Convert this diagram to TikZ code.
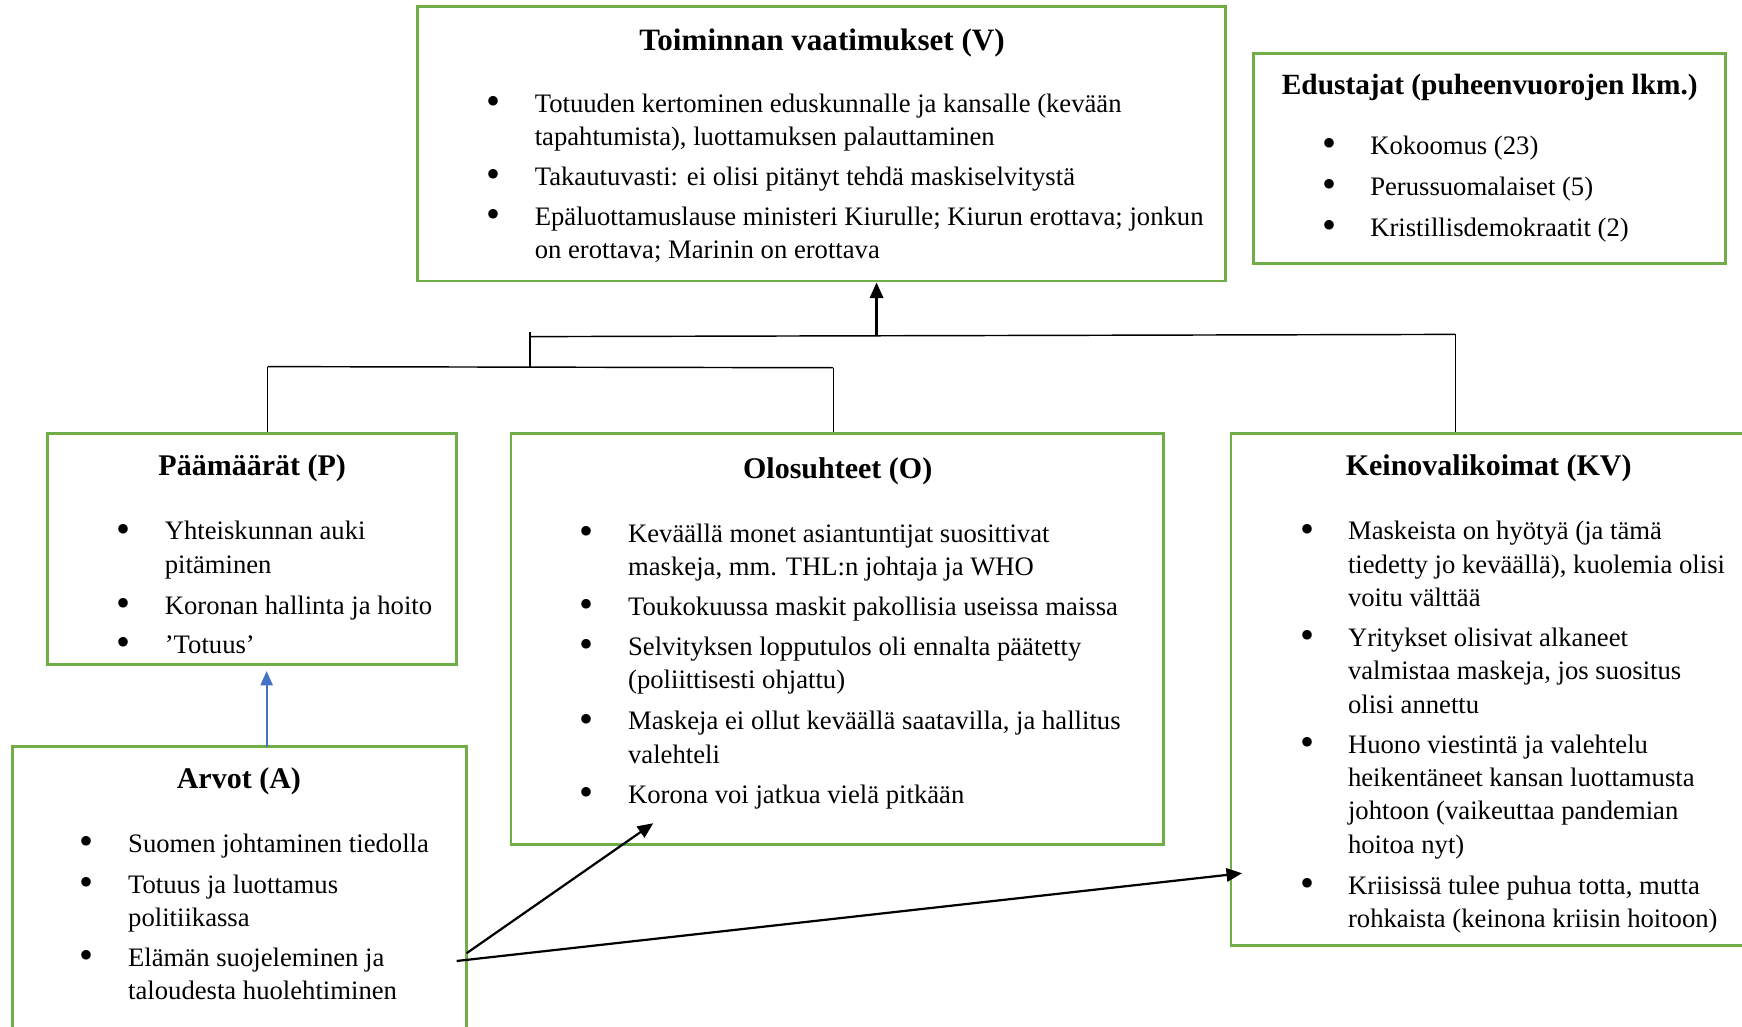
\documentclass[tikz,border=0pt]{standalone}
\usepackage{fontspec}
\setmainfont{Liberation Serif}
\usetikzlibrary{arrows.meta,fit}
\definecolor{boxgreen}{RGB}{112,173,71}
\definecolor{arrowblue}{RGB}{68,114,196}
\newcommand\itemlines[1]{\begin{tabular}[t]{@{}l@{}}#1\end{tabular}}
\begin{document}
\begin{tikzpicture}[x=0.5pt,y=-0.5pt,
  box/.style={draw=boxgreen,line width=1.25pt,inner sep=0pt},
  title/.style={font=\bfseries\fontsize{13.5}{16}\selectfont,anchor=center,inner sep=0pt,yshift=-1.75pt},
  item/.style={font=\fontsize{12}{15}\selectfont,anchor=base west,inner sep=0pt,yshift=-1.5pt},
  bul/.style={font=\fontsize{18}{18}\selectfont,anchor=center,inner sep=0pt,yshift=-1.5pt},
  link/.style={draw=black,line width=0.65pt},
  arr/.style={draw=black,line width=1pt,-{Triangle[length=7pt,width=6pt]}},
  barr/.style={draw=arrowblue,line width=1pt,-{Triangle[length=6.5pt,width=5.5pt]}},
]
\useasboundingbox (0,0) rectangle (1568,924);
\clip (0,0) rectangle (1568,924);

% ---------- V box ----------
\node[box,fit={(376,6) (1103,253)}] (V) {};
\node[title,font=\bfseries\fontsize{14}{16}\selectfont] (Vt) at (740,35) {Toiminnan vaatimukset (V)};
\node[bul] (Vb1) at (444,92) {•};
\node[item] (Vi1) at (481,98) {\itemlines{Totuuden kertominen eduskunnalle ja kansalle (kevään\\tapahtumista), luottamuksen palauttaminen}};
\node[bul] (Vb2) at (444,158) {•};
\node[item] (Vi2) at (481,164) {Takautuvasti: ei olisi pitänyt tehdä maskiselvitystä};
\node[bul] (Vb3) at (444,194) {•};
\node[item] (Vi3) at (481,200) {\itemlines{Epäluottamuslause ministeri Kiurulle; Kiurun erottava; jonkun\\on erottava; Marinin on erottava}};

% ---------- E box ----------
\node[box,fit={(1128,48) (1553,237)}] (E) {};
\node[title,font=\bfseries\fontsize{13.2}{16}\selectfont] (Et) at (1341,75) {Edustajat (puheenvuorojen lkm.)};
\node[bul] (Eb1) at (1197,130) {•};
\node[item] (Ei1) at (1233,136) {Kokoomus (23)};
\node[bul] (Eb2) at (1197,167) {•};
\node[item] (Ei2) at (1233,173) {Perussuomalaiset (5)};
\node[bul] (Eb3) at (1197,204) {•};
\node[item] (Ei3) at (1233,210) {Kristillisdemokraatit (2)};

% ---------- P box ----------
\node[box,fit={(43,390) (411,598)}] (P) {};
\node[title] (Pt) at (227,418) {Päämäärät (P)};
\node[bul] (Pb1) at (111,477) {•};
\node[item] (Pi1) at (148,483) {\itemlines{Yhteiskunnan auki\\pitäminen}};
\node[bul] (Pb2) at (111,544) {•};
\node[item] (Pi2) at (148,550) {Koronan hallinta ja hoito};
\node[bul] (Pb3) at (111,579) {•};
\node[item] (Pi3) at (148,585) {’Totuus’};

% ---------- O box ----------
\node[box,fit={(460,390) (1047,760)}] (O) {};
\node[title] (Ot) at (754,421) {Olosuhteet (O)};
\node[bul] (Ob1) at (528,479) {•};
\node[item] (Oi1) at (565,485) {\itemlines{Keväällä monet asiantuntijat suosittivat\\maskeja, mm. THL:n johtaja ja WHO}};
\node[bul] (Ob2) at (528,545) {•};
\node[item] (Oi2) at (565,551) {Toukokuussa maskit pakollisia useissa maissa};
\node[bul] (Ob3) at (528,581) {•};
\node[item] (Oi3) at (565,587) {\itemlines{Selvityksen lopputulos oli ennalta päätetty\\(poliittisesti ohjattu)}};
\node[bul] (Ob4) at (528,648) {•};
\node[item] (Oi4) at (565,654) {\itemlines{Maskeja ei ollut keväällä saatavilla, ja hallitus\\valehteli}};
\node[bul] (Ob5) at (528,714) {•};
\node[item] (Oi5) at (565,720) {Korona voi jatkua vielä pitkään};

% ---------- KV box ----------
\node[box,fit={(1108,390) (1580,851)}] (KV) {};
\node[title] (KVt) at (1340,418) {Keinovalikoimat (KV)};
\node[bul] (Kb1) at (1177,477) {•};
\node[item] (Ki1) at (1213,483) {\itemlines{Maskeista on hyötyä (ja tämä\\tiedetty jo keväällä), kuolemia olisi\\voitu välttää}};
\node[bul] (Kb2) at (1177,573) {•};
\node[item] (Ki2) at (1213,579) {\itemlines{Yritykset olisivat alkaneet\\valmistaa maskeja, jos suositus\\olisi annettu}};
\node[bul] (Kb3) at (1177,669) {•};
\node[item] (Ki3) at (1213,675) {\itemlines{Huono viestintä ja valehtelu\\heikentäneet kansan luottamusta\\johtoon (vaikeuttaa pandemian\\hoitoa nyt)}};
\node[bul] (Kb4) at (1177,796) {•};
\node[item] (Ki4) at (1213,802) {\itemlines{Kriisissä tulee puhua totta, mutta\\rohkaista (keinona kriisin hoitoon)}};

% ---------- A box ----------
\node[box,fit={(11,672) (420,940)}] (A) {};
\node[title] (At) at (215,700) {Arvot (A)};
\node[bul] (Ab1) at (78,758) {•};
\node[item] (Ai1) at (115,764) {Suomen johtaminen tiedolla};
\node[bul] (Ab2) at (78,795) {•};
\node[item] (Ai2) at (115,801) {\itemlines{Totuus ja luottamus\\politiikassa}};
\node[bul] (Ab3) at (78,861) {•};
\node[item] (Ai3) at (115,867) {\itemlines{Elämän suojeleminen ja\\taloudesta huolehtiminen}};

% ---------- tree connectors ----------
\coordinate (hl) at (477,303);
\coordinate (hr) at (1310,301);
\coordinate (htop) at (477,299);
\coordinate (jV) at (789,302);
\coordinate (ml) at (241,330);
\coordinate (mm) at (477,330);
\coordinate (mr) at (750,331);
\draw[link] (hl) -- (hr);
\draw[link] (htop) -- (mm);
\draw[link] (ml) -- (mr);
\draw[link] (ml) -- (ml |- P.north);
\draw[link] (mr) -- (mr |- O.north);
\draw[link] (hr) -- (hr |- KV.north);
\draw[arr] (jV) -- (jV |- V.south);

% ---------- arrows from A ----------
\coordinate (Aup) at (240,672);
\coordinate (Pend) at (240,604);
\draw[barr] (Aup) -- (Pend);
\coordinate (As1) at (420,858);
\coordinate (Oend) at (588,741);
\draw[arr] (As1) -- (Oend);
\coordinate (As2) at (411,865);
\coordinate (KVend) at (1118,786);
\draw[arr] (As2) -- (KVend);
\end{tikzpicture}
\end{document}
